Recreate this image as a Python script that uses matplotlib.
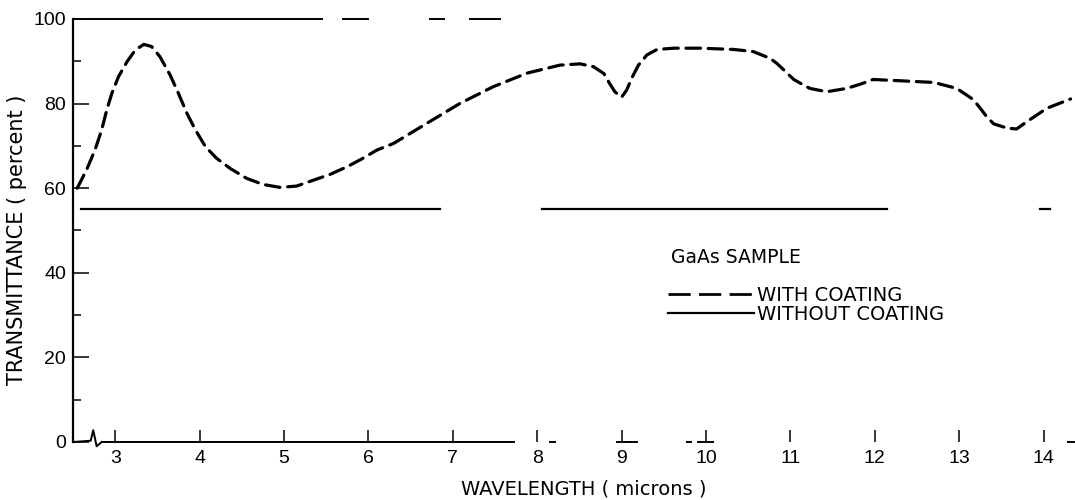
import matplotlib
matplotlib.use("Agg")
import matplotlib.pyplot as plt
from matplotlib.lines import Line2D
from matplotlib.ticker import MultipleLocator
import numpy as np

# GaAs sample transmittance
wl_coated = [2.55, 2.66, 2.76, 2.84, 2.90, 2.96, 3.04, 3.14, 3.24, 3.34, 3.43,
             3.53, 3.65, 3.75, 3.85, 3.95, 4.07, 4.20, 4.36, 4.56, 4.75, 4.95,
             5.15, 5.35, 5.55, 5.75, 5.92, 6.10, 6.30, 6.69, 7.09, 7.48, 7.88,
             8.27, 8.51, 8.67, 8.79, 8.86, 8.92, 9.00, 9.06, 9.12, 9.20, 9.30,
             9.42, 9.62, 9.93, 10.33, 10.56, 10.76, 10.84, 10.92, 11.04, 11.12,
             11.23, 11.43, 11.67, 11.83, 11.98, 12.30, 12.70, 12.97, 13.09,
             13.17, 13.25, 13.33, 13.41, 13.57, 13.68, 13.80, 14.04, 14.32]
t_coated = [60.0, 64.3, 69.0, 73.8, 78.5, 82.4, 86.4, 89.9, 92.7, 94.0, 93.5,
            91.1, 86.8, 82.4, 77.7, 73.8, 69.8, 67.1, 64.7, 62.3, 60.9, 60.2,
            60.5, 61.9, 63.3, 65.1, 66.9, 69.0, 70.6, 75.3, 80.1, 84.0, 87.2,
            89.1, 89.4, 88.7, 87.1, 84.7, 82.8, 81.5, 83.2, 86.0, 89.1, 91.5,
            92.8, 93.1, 93.1, 92.8, 92.3, 90.7, 89.5, 88.0, 85.7, 84.8,
            83.6, 82.8, 83.6, 84.6, 85.7, 85.4, 85.0, 83.6, 82.0,
            80.9, 78.9, 76.8, 75.2, 74.2, 74.0, 75.7, 78.9, 81.1]

# uncoated trace is flat; the scan has dropped parts of it
wl_plain = [2.6, 6.85, np.nan, 8.06, 12.14, np.nan, 13.96, 14.08]
t_plain = [55, 55, np.nan, 55.2, 55.2, np.nan, 55.2, 55.2]

xticks = list(range(3, 15))
yticks = [0, 20, 40, 60, 80, 100]

# pieces of the frame that survived the scan
top_runs = [(2.5, 5.45), (5.7, 6.0), (6.73, 6.9), (7.2, 7.56)]
base_runs = [(2.84, 7.72), (8.15, 8.21), (8.95, 9.18), (9.78, 9.82),
             (9.9, 10.08), (14.29, 14.36)]
break_x = [2.5, 2.71, 2.74, 2.78, 2.84]
break_y = [0, 0.3, 2.8, -1.0, 0]

plt.rcParams["font.family"] = ["Liberation Sans", "DejaVu Sans"]
plt.rcParams["lines.scale_dashes"] = False
label_font = ["DejaVu Sans"]

fig = plt.figure(figsize=(10.75, 5.0), dpi=100)
ax = fig.add_axes([0.0679, 0.116, 0.9327, 0.846])

coated_dash = (0, (10.5, 5.5))
ax.plot(wl_coated, t_coated, color="black", lw=2.3, linestyle=coated_dash,
        dash_capstyle="round", dash_joinstyle="round")
ax.plot(wl_plain, t_plain, color="black", lw=1.6)

for a, b in top_runs:
    ax.plot([a, b], [100, 100], color="black", lw=1.4, clip_on=False)
for a, b in base_runs:
    ax.plot([a, b], [0, 0], color="black", lw=1.4, clip_on=False)
ax.plot(break_x, break_y, color="black", lw=1.4, clip_on=False)

ax.set_xlim(2.5, 14.38)
ax.set_ylim(0, 100)
for s in ["top", "right", "bottom"]:
    ax.spines[s].set_visible(False)
ax.spines["left"].set_linewidth(1.6)

ax.set_xticks(xticks)
ax.set_yticks(yticks)
ax.yaxis.set_minor_locator(MultipleLocator(10))
ax.tick_params(axis="x", direction="in", length=8.5, width=1.1, pad=6,
               labelsize=14)
ax.tick_params(axis="y", which="major", direction="in", length=11.5,
               width=1.1, pad=5, labelsize=14)
ax.tick_params(axis="y", which="minor", direction="in", length=6, width=1.1)

ax.set_xlabel("WAVELENGTH ( microns )", fontsize=14, family=label_font)
ax.set_ylabel("TRANSMITTANCE ( percent )", fontsize=15, family=label_font)
ax.xaxis.set_label_coords(0.509, -0.088)
ax.yaxis.set_label_coords(-0.046, 0.478)

ax.text(9.58, 43.5, "GaAs SAMPLE", fontsize=13.5, va="center", ha="left",
        family=label_font)
handles = [Line2D([], [], color="black", lw=2.0, linestyle=(0, (16, 6))),
           Line2D([], [], color="black", lw=1.6)]
ax.legend(handles, ["WITH COATING", "WITHOUT COATING"], loc="upper left",
          bbox_to_anchor=(9.55, 36.9), bbox_transform=ax.transData,
          frameon=False, prop={"family": label_font, "size": 14},
          handlelength=4.4, handletextpad=0.2, borderpad=0, borderaxespad=0,
          labelspacing=0.0)

fig.savefig("out.png", dpi=100)
